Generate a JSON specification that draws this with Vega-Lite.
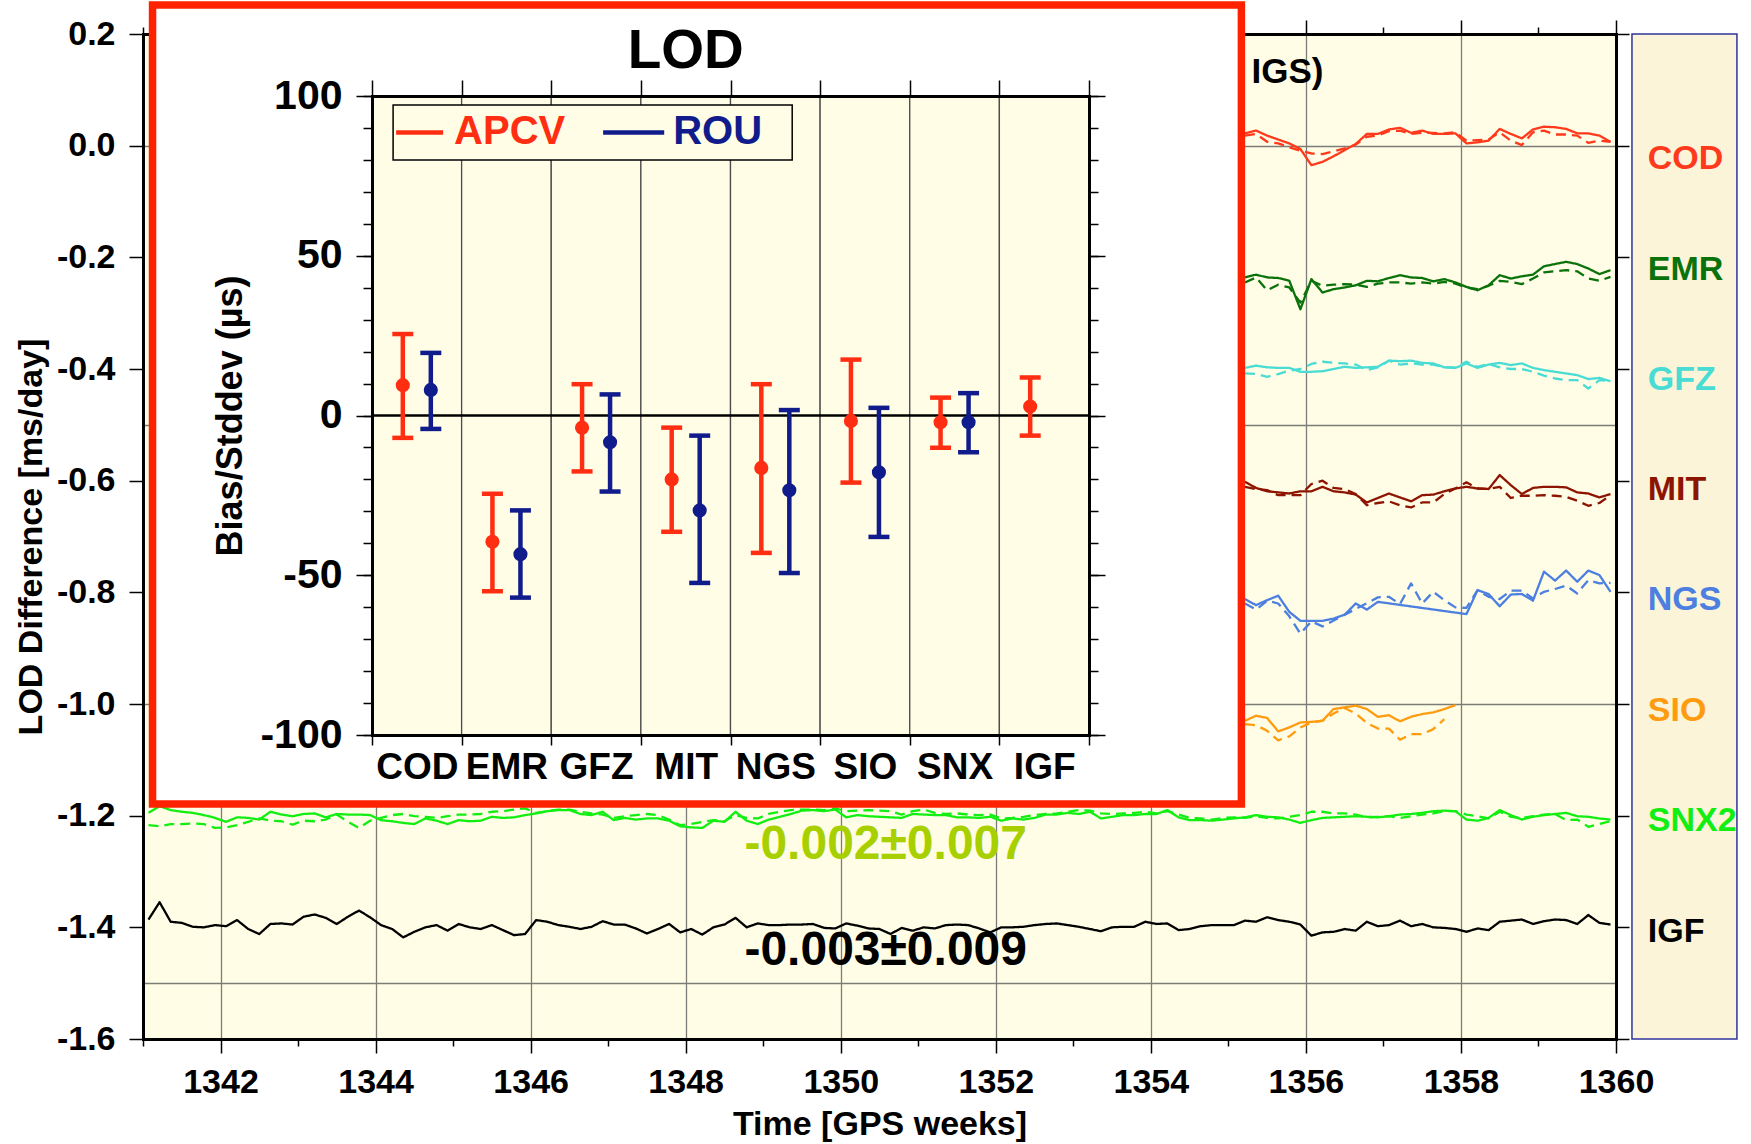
{
"$schema": "https://vega.github.io/schema/vega-lite/v6.json",
"width": 1473, "height": 1005,
"autosize": {"type": "none"},
"padding": {"left": 143, "top": 34, "right": 135, "bottom": 105},
"background": "white",
"config": {
  "font": "Liberation Sans",
  "view": {"fill": "#fffde6", "stroke": null},
  "axis": {"labelFont": "Liberation Sans", "titleFont": "Liberation Sans", "labelFontWeight": "bold", "titleFontWeight": "bold",
    "labelColor": "black", "titleColor": "black", "tickColor": "black", "domainColor": "black",
    "labelFlush": false, "labelOverlap": false, "labelFontSize": 34, "titleFontSize": 34,
    "tickWidth": 1.5, "domainWidth": 3, "domainCap": "square", "grid": false, "gridColor": "#7d7d78", "gridWidth": 1.3}
},
"datasets": {
"labels": [{"ac":"COD","level":-0.024},{"ac":"EMR","level":-0.222},{"ac":"GFZ","level":-0.42},{"ac":"MIT","level":-0.616},{"ac":"NGS","level":-0.814},{"ac":"SIO","level":-1.012},{"ac":"SNX2","level":-1.21},{"ac":"IGF","level":-1.408}],
"bars": [
{"cat":"COD","sol":"APCV","mean":9.5,"lo":-7,"hi":25.5},
{"cat":"COD","sol":"ROU","mean":8,"lo":-4.2,"hi":19.6},
{"cat":"EMR","sol":"APCV","mean":-39.5,"lo":-55,"hi":-24.5},
{"cat":"EMR","sol":"ROU","mean":-43.4,"lo":-57,"hi":-29.7},
{"cat":"GFZ","sol":"APCV","mean":-3.8,"lo":-17.5,"hi":9.8},
{"cat":"GFZ","sol":"ROU","mean":-8.4,"lo":-23.8,"hi":6.6},
{"cat":"MIT","sol":"APCV","mean":-20,"lo":-36.4,"hi":-3.8},
{"cat":"MIT","sol":"ROU","mean":-29.7,"lo":-52.4,"hi":-6.3},
{"cat":"NGS","sol":"APCV","mean":-16.4,"lo":-43,"hi":9.8},
{"cat":"NGS","sol":"ROU","mean":-23.4,"lo":-49.3,"hi":1.7},
{"cat":"SIO","sol":"APCV","mean":-1.7,"lo":-21,"hi":17.5},
{"cat":"SIO","sol":"ROU","mean":-17.8,"lo":-38,"hi":2.4},
{"cat":"SNX","sol":"APCV","mean":-2.1,"lo":-10.1,"hi":5.6},
{"cat":"SNX","sol":"ROU","mean":-2.1,"lo":-11.5,"hi":7},
{"cat":"IGF","sol":"APCV","mean":2.8,"lo":-6.3,"hi":11.9}
],
"series": [
{"ac":"IGF","sol":"APCV","week":1341.071,"lod":-1.386},{"ac":"IGF","sol":"APCV","week":1341.214,"lod":-1.355},{"ac":"IGF","sol":"APCV","week":1341.357,"lod":-1.390},{"ac":"IGF","sol":"APCV","week":1341.5,"lod":-1.392},{"ac":"IGF","sol":"APCV","week":1341.643,"lod":-1.399},{"ac":"IGF","sol":"APCV","week":1341.786,"lod":-1.400},{"ac":"IGF","sol":"APCV","week":1341.929,"lod":-1.396},
{"ac":"IGF","sol":"APCV","week":1342.071,"lod":-1.398},{"ac":"IGF","sol":"APCV","week":1342.214,"lod":-1.387},{"ac":"IGF","sol":"APCV","week":1342.357,"lod":-1.403},{"ac":"IGF","sol":"APCV","week":1342.5,"lod":-1.412},{"ac":"IGF","sol":"APCV","week":1342.643,"lod":-1.394},{"ac":"IGF","sol":"APCV","week":1342.786,"lod":-1.393},{"ac":"IGF","sol":"APCV","week":1342.929,"lod":-1.395},
{"ac":"IGF","sol":"APCV","week":1343.071,"lod":-1.381},{"ac":"IGF","sol":"APCV","week":1343.214,"lod":-1.377},{"ac":"IGF","sol":"APCV","week":1343.357,"lod":-1.383},{"ac":"IGF","sol":"APCV","week":1343.5,"lod":-1.394},{"ac":"IGF","sol":"APCV","week":1343.643,"lod":-1.381},{"ac":"IGF","sol":"APCV","week":1343.786,"lod":-1.370},{"ac":"IGF","sol":"APCV","week":1343.929,"lod":-1.382},
{"ac":"IGF","sol":"APCV","week":1344.071,"lod":-1.396},{"ac":"IGF","sol":"APCV","week":1344.214,"lod":-1.403},{"ac":"IGF","sol":"APCV","week":1344.357,"lod":-1.418},{"ac":"IGF","sol":"APCV","week":1344.5,"lod":-1.408},{"ac":"IGF","sol":"APCV","week":1344.643,"lod":-1.400},{"ac":"IGF","sol":"APCV","week":1344.786,"lod":-1.396},{"ac":"IGF","sol":"APCV","week":1344.929,"lod":-1.406},
{"ac":"IGF","sol":"APCV","week":1345.071,"lod":-1.394},{"ac":"IGF","sol":"APCV","week":1345.214,"lod":-1.400},{"ac":"IGF","sol":"APCV","week":1345.357,"lod":-1.403},{"ac":"IGF","sol":"APCV","week":1345.5,"lod":-1.396},{"ac":"IGF","sol":"APCV","week":1345.643,"lod":-1.405},{"ac":"IGF","sol":"APCV","week":1345.786,"lod":-1.414},{"ac":"IGF","sol":"APCV","week":1345.929,"lod":-1.412},
{"ac":"IGF","sol":"APCV","week":1346.071,"lod":-1.387},{"ac":"IGF","sol":"APCV","week":1346.214,"lod":-1.390},{"ac":"IGF","sol":"APCV","week":1346.357,"lod":-1.396},{"ac":"IGF","sol":"APCV","week":1346.5,"lod":-1.399},{"ac":"IGF","sol":"APCV","week":1346.643,"lod":-1.403},{"ac":"IGF","sol":"APCV","week":1346.786,"lod":-1.399},{"ac":"IGF","sol":"APCV","week":1346.929,"lod":-1.389},
{"ac":"IGF","sol":"APCV","week":1347.071,"lod":-1.395},{"ac":"IGF","sol":"APCV","week":1347.214,"lod":-1.395},{"ac":"IGF","sol":"APCV","week":1347.357,"lod":-1.402},{"ac":"IGF","sol":"APCV","week":1347.5,"lod":-1.411},{"ac":"IGF","sol":"APCV","week":1347.643,"lod":-1.403},{"ac":"IGF","sol":"APCV","week":1347.786,"lod":-1.394},{"ac":"IGF","sol":"APCV","week":1347.929,"lod":-1.409},
{"ac":"IGF","sol":"APCV","week":1348.071,"lod":-1.403},{"ac":"IGF","sol":"APCV","week":1348.214,"lod":-1.413},{"ac":"IGF","sol":"APCV","week":1348.357,"lod":-1.400},{"ac":"IGF","sol":"APCV","week":1348.5,"lod":-1.395},{"ac":"IGF","sol":"APCV","week":1348.643,"lod":-1.383},{"ac":"IGF","sol":"APCV","week":1348.786,"lod":-1.400},{"ac":"IGF","sol":"APCV","week":1348.929,"lod":-1.393},
{"ac":"IGF","sol":"APCV","week":1349.071,"lod":-1.396},{"ac":"IGF","sol":"APCV","week":1349.214,"lod":-1.396},{"ac":"IGF","sol":"APCV","week":1349.357,"lod":-1.395},{"ac":"IGF","sol":"APCV","week":1349.5,"lod":-1.395},{"ac":"IGF","sol":"APCV","week":1349.643,"lod":-1.394},{"ac":"IGF","sol":"APCV","week":1349.786,"lod":-1.401},{"ac":"IGF","sol":"APCV","week":1349.929,"lod":-1.402},
{"ac":"IGF","sol":"APCV","week":1350.071,"lod":-1.393},{"ac":"IGF","sol":"APCV","week":1350.214,"lod":-1.397},{"ac":"IGF","sol":"APCV","week":1350.357,"lod":-1.402},{"ac":"IGF","sol":"APCV","week":1350.5,"lod":-1.403},{"ac":"IGF","sol":"APCV","week":1350.643,"lod":-1.412},{"ac":"IGF","sol":"APCV","week":1350.786,"lod":-1.401},{"ac":"IGF","sol":"APCV","week":1350.929,"lod":-1.406},
{"ac":"IGF","sol":"APCV","week":1351.071,"lod":-1.400},{"ac":"IGF","sol":"APCV","week":1351.214,"lod":-1.402},{"ac":"IGF","sol":"APCV","week":1351.357,"lod":-1.396},{"ac":"IGF","sol":"APCV","week":1351.5,"lod":-1.395},{"ac":"IGF","sol":"APCV","week":1351.643,"lod":-1.396},{"ac":"IGF","sol":"APCV","week":1351.786,"lod":-1.402},{"ac":"IGF","sol":"APCV","week":1351.929,"lod":-1.409},
{"ac":"IGF","sol":"APCV","week":1352.071,"lod":-1.400},{"ac":"IGF","sol":"APCV","week":1352.214,"lod":-1.400},{"ac":"IGF","sol":"APCV","week":1352.357,"lod":-1.399},{"ac":"IGF","sol":"APCV","week":1352.5,"lod":-1.396},{"ac":"IGF","sol":"APCV","week":1352.643,"lod":-1.394},{"ac":"IGF","sol":"APCV","week":1352.786,"lod":-1.393},{"ac":"IGF","sol":"APCV","week":1352.929,"lod":-1.396},
{"ac":"IGF","sol":"APCV","week":1353.071,"lod":-1.399},{"ac":"IGF","sol":"APCV","week":1353.214,"lod":-1.403},{"ac":"IGF","sol":"APCV","week":1353.357,"lod":-1.407},{"ac":"IGF","sol":"APCV","week":1353.5,"lod":-1.400},{"ac":"IGF","sol":"APCV","week":1353.643,"lod":-1.399},{"ac":"IGF","sol":"APCV","week":1353.786,"lod":-1.399},{"ac":"IGF","sol":"APCV","week":1353.929,"lod":-1.390},
{"ac":"IGF","sol":"APCV","week":1354.071,"lod":-1.394},{"ac":"IGF","sol":"APCV","week":1354.214,"lod":-1.393},{"ac":"IGF","sol":"APCV","week":1354.357,"lod":-1.405},{"ac":"IGF","sol":"APCV","week":1354.5,"lod":-1.403},{"ac":"IGF","sol":"APCV","week":1354.643,"lod":-1.398},{"ac":"IGF","sol":"APCV","week":1354.786,"lod":-1.396},{"ac":"IGF","sol":"APCV","week":1354.929,"lod":-1.396},
{"ac":"IGF","sol":"APCV","week":1355.071,"lod":-1.396},{"ac":"IGF","sol":"APCV","week":1355.214,"lod":-1.388},{"ac":"IGF","sol":"APCV","week":1355.357,"lod":-1.390},{"ac":"IGF","sol":"APCV","week":1355.5,"lod":-1.382},{"ac":"IGF","sol":"APCV","week":1355.643,"lod":-1.387},{"ac":"IGF","sol":"APCV","week":1355.786,"lod":-1.390},{"ac":"IGF","sol":"APCV","week":1355.929,"lod":-1.395},
{"ac":"IGF","sol":"APCV","week":1356.071,"lod":-1.415},{"ac":"IGF","sol":"APCV","week":1356.214,"lod":-1.409},{"ac":"IGF","sol":"APCV","week":1356.357,"lod":-1.408},{"ac":"IGF","sol":"APCV","week":1356.5,"lod":-1.403},{"ac":"IGF","sol":"APCV","week":1356.643,"lod":-1.406},{"ac":"IGF","sol":"APCV","week":1356.786,"lod":-1.390},{"ac":"IGF","sol":"APCV","week":1356.929,"lod":-1.398},
{"ac":"IGF","sol":"APCV","week":1357.071,"lod":-1.396},{"ac":"IGF","sol":"APCV","week":1357.214,"lod":-1.388},{"ac":"IGF","sol":"APCV","week":1357.357,"lod":-1.398},{"ac":"IGF","sol":"APCV","week":1357.5,"lod":-1.394},{"ac":"IGF","sol":"APCV","week":1357.643,"lod":-1.400},{"ac":"IGF","sol":"APCV","week":1357.786,"lod":-1.401},{"ac":"IGF","sol":"APCV","week":1357.929,"lod":-1.403},
{"ac":"IGF","sol":"APCV","week":1358.071,"lod":-1.408},{"ac":"IGF","sol":"APCV","week":1358.214,"lod":-1.402},{"ac":"IGF","sol":"APCV","week":1358.357,"lod":-1.405},{"ac":"IGF","sol":"APCV","week":1358.5,"lod":-1.390},{"ac":"IGF","sol":"APCV","week":1358.643,"lod":-1.388},{"ac":"IGF","sol":"APCV","week":1358.786,"lod":-1.386},{"ac":"IGF","sol":"APCV","week":1358.929,"lod":-1.394},
{"ac":"IGF","sol":"APCV","week":1359.071,"lod":-1.389},{"ac":"IGF","sol":"APCV","week":1359.214,"lod":-1.386},{"ac":"IGF","sol":"APCV","week":1359.357,"lod":-1.387},{"ac":"IGF","sol":"APCV","week":1359.5,"lod":-1.394},{"ac":"IGF","sol":"APCV","week":1359.643,"lod":-1.378},{"ac":"IGF","sol":"APCV","week":1359.786,"lod":-1.392},{"ac":"IGF","sol":"APCV","week":1359.929,"lod":-1.395},

{"ac":"SNX2","sol":"APCV","week":1341.071,"lod":-1.195},{"ac":"SNX2","sol":"APCV","week":1341.214,"lod":-1.183},{"ac":"SNX2","sol":"APCV","week":1341.357,"lod":-1.190},{"ac":"SNX2","sol":"APCV","week":1341.5,"lod":-1.193},{"ac":"SNX2","sol":"APCV","week":1341.643,"lod":-1.195},{"ac":"SNX2","sol":"APCV","week":1341.786,"lod":-1.199},{"ac":"SNX2","sol":"APCV","week":1341.929,"lod":-1.204},
{"ac":"SNX2","sol":"APCV","week":1342.071,"lod":-1.211},{"ac":"SNX2","sol":"APCV","week":1342.214,"lod":-1.203},{"ac":"SNX2","sol":"APCV","week":1342.357,"lod":-1.204},{"ac":"SNX2","sol":"APCV","week":1342.5,"lod":-1.207},{"ac":"SNX2","sol":"APCV","week":1342.643,"lod":-1.193},{"ac":"SNX2","sol":"APCV","week":1342.786,"lod":-1.198},{"ac":"SNX2","sol":"APCV","week":1342.929,"lod":-1.201},
{"ac":"SNX2","sol":"APCV","week":1343.071,"lod":-1.197},{"ac":"SNX2","sol":"APCV","week":1343.214,"lod":-1.196},{"ac":"SNX2","sol":"APCV","week":1343.357,"lod":-1.203},{"ac":"SNX2","sol":"APCV","week":1343.5,"lod":-1.197},{"ac":"SNX2","sol":"APCV","week":1343.643,"lod":-1.198},{"ac":"SNX2","sol":"APCV","week":1343.786,"lod":-1.198},{"ac":"SNX2","sol":"APCV","week":1343.929,"lod":-1.199},
{"ac":"SNX2","sol":"APCV","week":1344.071,"lod":-1.208},{"ac":"SNX2","sol":"APCV","week":1344.214,"lod":-1.210},{"ac":"SNX2","sol":"APCV","week":1344.357,"lod":-1.213},{"ac":"SNX2","sol":"APCV","week":1344.5,"lod":-1.215},{"ac":"SNX2","sol":"APCV","week":1344.643,"lod":-1.205},{"ac":"SNX2","sol":"APCV","week":1344.786,"lod":-1.209},{"ac":"SNX2","sol":"APCV","week":1344.929,"lod":-1.215},
{"ac":"SNX2","sol":"APCV","week":1345.071,"lod":-1.208},{"ac":"SNX2","sol":"APCV","week":1345.214,"lod":-1.210},{"ac":"SNX2","sol":"APCV","week":1345.357,"lod":-1.209},{"ac":"SNX2","sol":"APCV","week":1345.5,"lod":-1.202},{"ac":"SNX2","sol":"APCV","week":1345.643,"lod":-1.204},{"ac":"SNX2","sol":"APCV","week":1345.786,"lod":-1.203},{"ac":"SNX2","sol":"APCV","week":1345.929,"lod":-1.199},
{"ac":"SNX2","sol":"APCV","week":1346.071,"lod":-1.196},{"ac":"SNX2","sol":"APCV","week":1346.214,"lod":-1.192},{"ac":"SNX2","sol":"APCV","week":1346.357,"lod":-1.190},{"ac":"SNX2","sol":"APCV","week":1346.5,"lod":-1.190},{"ac":"SNX2","sol":"APCV","week":1346.643,"lod":-1.197},{"ac":"SNX2","sol":"APCV","week":1346.786,"lod":-1.199},{"ac":"SNX2","sol":"APCV","week":1346.929,"lod":-1.193},
{"ac":"SNX2","sol":"APCV","week":1347.071,"lod":-1.208},{"ac":"SNX2","sol":"APCV","week":1347.214,"lod":-1.204},{"ac":"SNX2","sol":"APCV","week":1347.357,"lod":-1.207},{"ac":"SNX2","sol":"APCV","week":1347.5,"lod":-1.205},{"ac":"SNX2","sol":"APCV","week":1347.643,"lod":-1.205},{"ac":"SNX2","sol":"APCV","week":1347.786,"lod":-1.209},{"ac":"SNX2","sol":"APCV","week":1347.929,"lod":-1.219},
{"ac":"SNX2","sol":"APCV","week":1348.071,"lod":-1.221},{"ac":"SNX2","sol":"APCV","week":1348.214,"lod":-1.222},{"ac":"SNX2","sol":"APCV","week":1348.357,"lod":-1.209},{"ac":"SNX2","sol":"APCV","week":1348.5,"lod":-1.211},{"ac":"SNX2","sol":"APCV","week":1348.643,"lod":-1.193},{"ac":"SNX2","sol":"APCV","week":1348.786,"lod":-1.209},{"ac":"SNX2","sol":"APCV","week":1348.929,"lod":-1.215},
{"ac":"SNX2","sol":"APCV","week":1349.071,"lod":-1.207},{"ac":"SNX2","sol":"APCV","week":1349.214,"lod":-1.202},{"ac":"SNX2","sol":"APCV","week":1349.357,"lod":-1.197},{"ac":"SNX2","sol":"APCV","week":1349.5,"lod":-1.191},{"ac":"SNX2","sol":"APCV","week":1349.643,"lod":-1.190},{"ac":"SNX2","sol":"APCV","week":1349.786,"lod":-1.192},{"ac":"SNX2","sol":"APCV","week":1349.929,"lod":-1.189},
{"ac":"SNX2","sol":"APCV","week":1350.071,"lod":-1.203},{"ac":"SNX2","sol":"APCV","week":1350.214,"lod":-1.199},{"ac":"SNX2","sol":"APCV","week":1350.357,"lod":-1.201},{"ac":"SNX2","sol":"APCV","week":1350.5,"lod":-1.202},{"ac":"SNX2","sol":"APCV","week":1350.643,"lod":-1.203},{"ac":"SNX2","sol":"APCV","week":1350.786,"lod":-1.204},{"ac":"SNX2","sol":"APCV","week":1350.929,"lod":-1.197},
{"ac":"SNX2","sol":"APCV","week":1351.071,"lod":-1.198},{"ac":"SNX2","sol":"APCV","week":1351.214,"lod":-1.199},{"ac":"SNX2","sol":"APCV","week":1351.357,"lod":-1.199},{"ac":"SNX2","sol":"APCV","week":1351.5,"lod":-1.203},{"ac":"SNX2","sol":"APCV","week":1351.643,"lod":-1.203},{"ac":"SNX2","sol":"APCV","week":1351.786,"lod":-1.204},{"ac":"SNX2","sol":"APCV","week":1351.929,"lod":-1.202},
{"ac":"SNX2","sol":"APCV","week":1352.071,"lod":-1.209},{"ac":"SNX2","sol":"APCV","week":1352.214,"lod":-1.205},{"ac":"SNX2","sol":"APCV","week":1352.357,"lod":-1.207},{"ac":"SNX2","sol":"APCV","week":1352.5,"lod":-1.204},{"ac":"SNX2","sol":"APCV","week":1352.643,"lod":-1.198},{"ac":"SNX2","sol":"APCV","week":1352.786,"lod":-1.198},{"ac":"SNX2","sol":"APCV","week":1352.929,"lod":-1.195},
{"ac":"SNX2","sol":"APCV","week":1353.071,"lod":-1.197},{"ac":"SNX2","sol":"APCV","week":1353.214,"lod":-1.193},{"ac":"SNX2","sol":"APCV","week":1353.357,"lod":-1.205},{"ac":"SNX2","sol":"APCV","week":1353.5,"lod":-1.202},{"ac":"SNX2","sol":"APCV","week":1353.643,"lod":-1.199},{"ac":"SNX2","sol":"APCV","week":1353.786,"lod":-1.199},{"ac":"SNX2","sol":"APCV","week":1353.929,"lod":-1.197},
{"ac":"SNX2","sol":"APCV","week":1354.071,"lod":-1.197},{"ac":"SNX2","sol":"APCV","week":1354.214,"lod":-1.190},{"ac":"SNX2","sol":"APCV","week":1354.357,"lod":-1.203},{"ac":"SNX2","sol":"APCV","week":1354.5,"lod":-1.208},{"ac":"SNX2","sol":"APCV","week":1354.643,"lod":-1.208},{"ac":"SNX2","sol":"APCV","week":1354.786,"lod":-1.209},{"ac":"SNX2","sol":"APCV","week":1354.929,"lod":-1.207},
{"ac":"SNX2","sol":"APCV","week":1355.071,"lod":-1.205},{"ac":"SNX2","sol":"APCV","week":1355.214,"lod":-1.203},{"ac":"SNX2","sol":"APCV","week":1355.357,"lod":-1.199},{"ac":"SNX2","sol":"APCV","week":1355.5,"lod":-1.202},{"ac":"SNX2","sol":"APCV","week":1355.643,"lod":-1.203},{"ac":"SNX2","sol":"APCV","week":1355.786,"lod":-1.207},{"ac":"SNX2","sol":"APCV","week":1355.929,"lod":-1.213},
{"ac":"SNX2","sol":"APCV","week":1356.071,"lod":-1.208},{"ac":"SNX2","sol":"APCV","week":1356.214,"lod":-1.204},{"ac":"SNX2","sol":"APCV","week":1356.357,"lod":-1.203},{"ac":"SNX2","sol":"APCV","week":1356.5,"lod":-1.202},{"ac":"SNX2","sol":"APCV","week":1356.643,"lod":-1.201},{"ac":"SNX2","sol":"APCV","week":1356.786,"lod":-1.202},{"ac":"SNX2","sol":"APCV","week":1356.929,"lod":-1.203},
{"ac":"SNX2","sol":"APCV","week":1357.071,"lod":-1.201},{"ac":"SNX2","sol":"APCV","week":1357.214,"lod":-1.198},{"ac":"SNX2","sol":"APCV","week":1357.357,"lod":-1.197},{"ac":"SNX2","sol":"APCV","week":1357.5,"lod":-1.195},{"ac":"SNX2","sol":"APCV","week":1357.643,"lod":-1.192},{"ac":"SNX2","sol":"APCV","week":1357.786,"lod":-1.191},{"ac":"SNX2","sol":"APCV","week":1357.929,"lod":-1.192},
{"ac":"SNX2","sol":"APCV","week":1358.071,"lod":-1.207},{"ac":"SNX2","sol":"APCV","week":1358.214,"lod":-1.209},{"ac":"SNX2","sol":"APCV","week":1358.357,"lod":-1.204},{"ac":"SNX2","sol":"APCV","week":1358.5,"lod":-1.190},{"ac":"SNX2","sol":"APCV","week":1358.643,"lod":-1.199},{"ac":"SNX2","sol":"APCV","week":1358.786,"lod":-1.207},{"ac":"SNX2","sol":"APCV","week":1358.929,"lod":-1.202},
{"ac":"SNX2","sol":"APCV","week":1359.071,"lod":-1.199},{"ac":"SNX2","sol":"APCV","week":1359.214,"lod":-1.197},{"ac":"SNX2","sol":"APCV","week":1359.357,"lod":-1.195},{"ac":"SNX2","sol":"APCV","week":1359.5,"lod":-1.201},{"ac":"SNX2","sol":"APCV","week":1359.643,"lod":-1.202},{"ac":"SNX2","sol":"APCV","week":1359.786,"lod":-1.205},{"ac":"SNX2","sol":"APCV","week":1359.929,"lod":-1.207},

{"ac":"SNX2","sol":"ROU","week":1341.071,"lod":-1.217},{"ac":"SNX2","sol":"ROU","week":1341.214,"lod":-1.219},{"ac":"SNX2","sol":"ROU","week":1341.357,"lod":-1.215},{"ac":"SNX2","sol":"ROU","week":1341.5,"lod":-1.215},{"ac":"SNX2","sol":"ROU","week":1341.643,"lod":-1.214},{"ac":"SNX2","sol":"ROU","week":1341.786,"lod":-1.215},{"ac":"SNX2","sol":"ROU","week":1341.929,"lod":-1.222},
{"ac":"SNX2","sol":"ROU","week":1342.071,"lod":-1.221},{"ac":"SNX2","sol":"ROU","week":1342.214,"lod":-1.217},{"ac":"SNX2","sol":"ROU","week":1342.357,"lod":-1.211},{"ac":"SNX2","sol":"ROU","week":1342.5,"lod":-1.205},{"ac":"SNX2","sol":"ROU","week":1342.643,"lod":-1.209},{"ac":"SNX2","sol":"ROU","week":1342.786,"lod":-1.210},{"ac":"SNX2","sol":"ROU","week":1342.929,"lod":-1.216},
{"ac":"SNX2","sol":"ROU","week":1343.071,"lod":-1.209},{"ac":"SNX2","sol":"ROU","week":1343.214,"lod":-1.210},{"ac":"SNX2","sol":"ROU","week":1343.357,"lod":-1.207},{"ac":"SNX2","sol":"ROU","week":1343.5,"lod":-1.198},{"ac":"SNX2","sol":"ROU","week":1343.643,"lod":-1.211},{"ac":"SNX2","sol":"ROU","week":1343.786,"lod":-1.222},{"ac":"SNX2","sol":"ROU","week":1343.929,"lod":-1.209},
{"ac":"SNX2","sol":"ROU","week":1344.071,"lod":-1.204},{"ac":"SNX2","sol":"ROU","week":1344.214,"lod":-1.199},{"ac":"SNX2","sol":"ROU","week":1344.357,"lod":-1.197},{"ac":"SNX2","sol":"ROU","week":1344.5,"lod":-1.201},{"ac":"SNX2","sol":"ROU","week":1344.643,"lod":-1.202},{"ac":"SNX2","sol":"ROU","week":1344.786,"lod":-1.204},{"ac":"SNX2","sol":"ROU","week":1344.929,"lod":-1.201},
{"ac":"SNX2","sol":"ROU","week":1345.071,"lod":-1.198},{"ac":"SNX2","sol":"ROU","week":1345.214,"lod":-1.198},{"ac":"SNX2","sol":"ROU","week":1345.357,"lod":-1.197},{"ac":"SNX2","sol":"ROU","week":1345.5,"lod":-1.193},{"ac":"SNX2","sol":"ROU","week":1345.643,"lod":-1.192},{"ac":"SNX2","sol":"ROU","week":1345.786,"lod":-1.189},{"ac":"SNX2","sol":"ROU","week":1345.929,"lod":-1.187},
{"ac":"SNX2","sol":"ROU","week":1346.071,"lod":-1.195},{"ac":"SNX2","sol":"ROU","week":1346.214,"lod":-1.192},{"ac":"SNX2","sol":"ROU","week":1346.357,"lod":-1.189},{"ac":"SNX2","sol":"ROU","week":1346.5,"lod":-1.189},{"ac":"SNX2","sol":"ROU","week":1346.643,"lod":-1.193},{"ac":"SNX2","sol":"ROU","week":1346.786,"lod":-1.196},{"ac":"SNX2","sol":"ROU","week":1346.929,"lod":-1.198},
{"ac":"SNX2","sol":"ROU","week":1347.071,"lod":-1.204},{"ac":"SNX2","sol":"ROU","week":1347.214,"lod":-1.201},{"ac":"SNX2","sol":"ROU","week":1347.357,"lod":-1.199},{"ac":"SNX2","sol":"ROU","week":1347.5,"lod":-1.197},{"ac":"SNX2","sol":"ROU","week":1347.643,"lod":-1.199},{"ac":"SNX2","sol":"ROU","week":1347.786,"lod":-1.207},{"ac":"SNX2","sol":"ROU","week":1347.929,"lod":-1.217},
{"ac":"SNX2","sol":"ROU","week":1348.071,"lod":-1.215},{"ac":"SNX2","sol":"ROU","week":1348.214,"lod":-1.211},{"ac":"SNX2","sol":"ROU","week":1348.357,"lod":-1.208},{"ac":"SNX2","sol":"ROU","week":1348.5,"lod":-1.210},{"ac":"SNX2","sol":"ROU","week":1348.643,"lod":-1.199},{"ac":"SNX2","sol":"ROU","week":1348.786,"lod":-1.204},{"ac":"SNX2","sol":"ROU","week":1348.929,"lod":-1.205},
{"ac":"SNX2","sol":"ROU","week":1349.071,"lod":-1.197},{"ac":"SNX2","sol":"ROU","week":1349.214,"lod":-1.193},{"ac":"SNX2","sol":"ROU","week":1349.357,"lod":-1.190},{"ac":"SNX2","sol":"ROU","week":1349.5,"lod":-1.189},{"ac":"SNX2","sol":"ROU","week":1349.643,"lod":-1.189},{"ac":"SNX2","sol":"ROU","week":1349.786,"lod":-1.190},{"ac":"SNX2","sol":"ROU","week":1349.929,"lod":-1.187},
{"ac":"SNX2","sol":"ROU","week":1350.071,"lod":-1.192},{"ac":"SNX2","sol":"ROU","week":1350.214,"lod":-1.191},{"ac":"SNX2","sol":"ROU","week":1350.357,"lod":-1.190},{"ac":"SNX2","sol":"ROU","week":1350.5,"lod":-1.191},{"ac":"SNX2","sol":"ROU","week":1350.643,"lod":-1.192},{"ac":"SNX2","sol":"ROU","week":1350.786,"lod":-1.198},{"ac":"SNX2","sol":"ROU","week":1350.929,"lod":-1.192},
{"ac":"SNX2","sol":"ROU","week":1351.071,"lod":-1.189},{"ac":"SNX2","sol":"ROU","week":1351.214,"lod":-1.195},{"ac":"SNX2","sol":"ROU","week":1351.357,"lod":-1.197},{"ac":"SNX2","sol":"ROU","week":1351.5,"lod":-1.196},{"ac":"SNX2","sol":"ROU","week":1351.643,"lod":-1.198},{"ac":"SNX2","sol":"ROU","week":1351.786,"lod":-1.199},{"ac":"SNX2","sol":"ROU","week":1351.929,"lod":-1.198},
{"ac":"SNX2","sol":"ROU","week":1352.071,"lod":-1.205},{"ac":"SNX2","sol":"ROU","week":1352.214,"lod":-1.204},{"ac":"SNX2","sol":"ROU","week":1352.357,"lod":-1.202},{"ac":"SNX2","sol":"ROU","week":1352.5,"lod":-1.199},{"ac":"SNX2","sol":"ROU","week":1352.643,"lod":-1.197},{"ac":"SNX2","sol":"ROU","week":1352.786,"lod":-1.196},{"ac":"SNX2","sol":"ROU","week":1352.929,"lod":-1.193},
{"ac":"SNX2","sol":"ROU","week":1353.071,"lod":-1.190},{"ac":"SNX2","sol":"ROU","week":1353.214,"lod":-1.191},{"ac":"SNX2","sol":"ROU","week":1353.357,"lod":-1.196},{"ac":"SNX2","sol":"ROU","week":1353.5,"lod":-1.197},{"ac":"SNX2","sol":"ROU","week":1353.643,"lod":-1.196},{"ac":"SNX2","sol":"ROU","week":1353.786,"lod":-1.195},{"ac":"SNX2","sol":"ROU","week":1353.929,"lod":-1.193},
{"ac":"SNX2","sol":"ROU","week":1354.071,"lod":-1.196},{"ac":"SNX2","sol":"ROU","week":1354.214,"lod":-1.192},{"ac":"SNX2","sol":"ROU","week":1354.357,"lod":-1.198},{"ac":"SNX2","sol":"ROU","week":1354.5,"lod":-1.204},{"ac":"SNX2","sol":"ROU","week":1354.643,"lod":-1.205},{"ac":"SNX2","sol":"ROU","week":1354.786,"lod":-1.207},{"ac":"SNX2","sol":"ROU","week":1354.929,"lod":-1.204},
{"ac":"SNX2","sol":"ROU","week":1355.071,"lod":-1.203},{"ac":"SNX2","sol":"ROU","week":1355.214,"lod":-1.204},{"ac":"SNX2","sol":"ROU","week":1355.357,"lod":-1.201},{"ac":"SNX2","sol":"ROU","week":1355.5,"lod":-1.204},{"ac":"SNX2","sol":"ROU","week":1355.643,"lod":-1.205},{"ac":"SNX2","sol":"ROU","week":1355.786,"lod":-1.202},{"ac":"SNX2","sol":"ROU","week":1355.929,"lod":-1.199},
{"ac":"SNX2","sol":"ROU","week":1356.071,"lod":-1.193},{"ac":"SNX2","sol":"ROU","week":1356.214,"lod":-1.193},{"ac":"SNX2","sol":"ROU","week":1356.357,"lod":-1.196},{"ac":"SNX2","sol":"ROU","week":1356.5,"lod":-1.196},{"ac":"SNX2","sol":"ROU","week":1356.643,"lod":-1.198},{"ac":"SNX2","sol":"ROU","week":1356.786,"lod":-1.203},{"ac":"SNX2","sol":"ROU","week":1356.929,"lod":-1.202},
{"ac":"SNX2","sol":"ROU","week":1357.071,"lod":-1.201},{"ac":"SNX2","sol":"ROU","week":1357.214,"lod":-1.204},{"ac":"SNX2","sol":"ROU","week":1357.357,"lod":-1.201},{"ac":"SNX2","sol":"ROU","week":1357.5,"lod":-1.198},{"ac":"SNX2","sol":"ROU","week":1357.643,"lod":-1.196},{"ac":"SNX2","sol":"ROU","week":1357.786,"lod":-1.192},{"ac":"SNX2","sol":"ROU","week":1357.929,"lod":-1.192},
{"ac":"SNX2","sol":"ROU","week":1358.071,"lod":-1.198},{"ac":"SNX2","sol":"ROU","week":1358.214,"lod":-1.201},{"ac":"SNX2","sol":"ROU","week":1358.357,"lod":-1.205},{"ac":"SNX2","sol":"ROU","week":1358.5,"lod":-1.193},{"ac":"SNX2","sol":"ROU","week":1358.643,"lod":-1.202},{"ac":"SNX2","sol":"ROU","week":1358.786,"lod":-1.204},{"ac":"SNX2","sol":"ROU","week":1358.929,"lod":-1.201},
{"ac":"SNX2","sol":"ROU","week":1359.071,"lod":-1.198},{"ac":"SNX2","sol":"ROU","week":1359.214,"lod":-1.197},{"ac":"SNX2","sol":"ROU","week":1359.357,"lod":-1.208},{"ac":"SNX2","sol":"ROU","week":1359.5,"lod":-1.207},{"ac":"SNX2","sol":"ROU","week":1359.643,"lod":-1.220},{"ac":"SNX2","sol":"ROU","week":1359.786,"lod":-1.215},{"ac":"SNX2","sol":"ROU","week":1359.929,"lod":-1.210},

{"ac":"COD","sol":"APCV","week":1355.214,"lod":0.022},{"ac":"COD","sol":"APCV","week":1355.357,"lod":0.027},{"ac":"COD","sol":"APCV","week":1355.5,"lod":0.018},{"ac":"COD","sol":"APCV","week":1355.643,"lod":0.011},{"ac":"COD","sol":"APCV","week":1355.786,"lod":0.004},{"ac":"COD","sol":"APCV","week":1355.929,"lod":-0.006},
{"ac":"COD","sol":"APCV","week":1356.071,"lod":-0.035},{"ac":"COD","sol":"APCV","week":1356.214,"lod":-0.029},{"ac":"COD","sol":"APCV","week":1356.357,"lod":-0.019},{"ac":"COD","sol":"APCV","week":1356.5,"lod":-0.008},{"ac":"COD","sol":"APCV","week":1356.643,"lod":0.003},{"ac":"COD","sol":"APCV","week":1356.786,"lod":0.021},{"ac":"COD","sol":"APCV","week":1356.929,"lod":0.021},
{"ac":"COD","sol":"APCV","week":1357.071,"lod":0.029},{"ac":"COD","sol":"APCV","week":1357.214,"lod":0.032},{"ac":"COD","sol":"APCV","week":1357.357,"lod":0.023},{"ac":"COD","sol":"APCV","week":1357.5,"lod":0.027},{"ac":"COD","sol":"APCV","week":1357.643,"lod":0.021},{"ac":"COD","sol":"APCV","week":1357.786,"lod":0.021},{"ac":"COD","sol":"APCV","week":1357.929,"lod":0.022},
{"ac":"COD","sol":"APCV","week":1358.071,"lod":0.004},{"ac":"COD","sol":"APCV","week":1358.214,"lod":0.006},{"ac":"COD","sol":"APCV","week":1358.357,"lod":0.009},{"ac":"COD","sol":"APCV","week":1358.5,"lod":0.030},{"ac":"COD","sol":"APCV","week":1358.643,"lod":0.021},{"ac":"COD","sol":"APCV","week":1358.786,"lod":0.013},{"ac":"COD","sol":"APCV","week":1358.929,"lod":0.029},
{"ac":"COD","sol":"APCV","week":1359.071,"lod":0.034},{"ac":"COD","sol":"APCV","week":1359.214,"lod":0.033},{"ac":"COD","sol":"APCV","week":1359.357,"lod":0.030},{"ac":"COD","sol":"APCV","week":1359.5,"lod":0.022},{"ac":"COD","sol":"APCV","week":1359.643,"lod":0.022},{"ac":"COD","sol":"APCV","week":1359.786,"lod":0.018},{"ac":"COD","sol":"APCV","week":1359.929,"lod":0.007},

{"ac":"COD","sol":"ROU","week":1355.214,"lod":0.018},{"ac":"COD","sol":"ROU","week":1355.357,"lod":0.021},{"ac":"COD","sol":"ROU","week":1355.5,"lod":0.007},{"ac":"COD","sol":"ROU","week":1355.643,"lod":0.004},{"ac":"COD","sol":"ROU","week":1355.786,"lod":-0.003},{"ac":"COD","sol":"ROU","week":1355.929,"lod":-0.009},
{"ac":"COD","sol":"ROU","week":1356.071,"lod":-0.014},{"ac":"COD","sol":"ROU","week":1356.214,"lod":-0.015},{"ac":"COD","sol":"ROU","week":1356.357,"lod":-0.010},{"ac":"COD","sol":"ROU","week":1356.5,"lod":-0.005},{"ac":"COD","sol":"ROU","week":1356.643,"lod":0.002},{"ac":"COD","sol":"ROU","week":1356.786,"lod":0.016},{"ac":"COD","sol":"ROU","week":1356.929,"lod":0.018},
{"ac":"COD","sol":"ROU","week":1357.071,"lod":0.026},{"ac":"COD","sol":"ROU","week":1357.214,"lod":0.027},{"ac":"COD","sol":"ROU","week":1357.357,"lod":0.021},{"ac":"COD","sol":"ROU","week":1357.5,"lod":0.023},{"ac":"COD","sol":"ROU","week":1357.643,"lod":0.023},{"ac":"COD","sol":"ROU","week":1357.786,"lod":0.022},{"ac":"COD","sol":"ROU","week":1357.929,"lod":0.024},
{"ac":"COD","sol":"ROU","week":1358.071,"lod":0.009},{"ac":"COD","sol":"ROU","week":1358.214,"lod":0.010},{"ac":"COD","sol":"ROU","week":1358.357,"lod":0.011},{"ac":"COD","sol":"ROU","week":1358.5,"lod":0.024},{"ac":"COD","sol":"ROU","week":1358.643,"lod":0.009},{"ac":"COD","sol":"ROU","week":1358.786,"lod":0.001},{"ac":"COD","sol":"ROU","week":1358.929,"lod":0.024},
{"ac":"COD","sol":"ROU","week":1359.071,"lod":0.027},{"ac":"COD","sol":"ROU","week":1359.214,"lod":0.020},{"ac":"COD","sol":"ROU","week":1359.357,"lod":0.020},{"ac":"COD","sol":"ROU","week":1359.5,"lod":0.018},{"ac":"COD","sol":"ROU","week":1359.643,"lod":0.005},{"ac":"COD","sol":"ROU","week":1359.786,"lod":0.009},{"ac":"COD","sol":"ROU","week":1359.929,"lod":0.007},

{"ac":"EMR","sol":"APCV","week":1355.214,"lod":-0.236},{"ac":"EMR","sol":"APCV","week":1355.357,"lod":-0.231},{"ac":"EMR","sol":"APCV","week":1355.5,"lod":-0.236},{"ac":"EMR","sol":"APCV","week":1355.643,"lod":-0.237},{"ac":"EMR","sol":"APCV","week":1355.786,"lod":-0.242},{"ac":"EMR","sol":"APCV","week":1355.929,"lod":-0.293},
{"ac":"EMR","sol":"APCV","week":1356.071,"lod":-0.239},{"ac":"EMR","sol":"APCV","week":1356.214,"lod":-0.263},{"ac":"EMR","sol":"APCV","week":1356.357,"lod":-0.257},{"ac":"EMR","sol":"APCV","week":1356.5,"lod":-0.254},{"ac":"EMR","sol":"APCV","week":1356.643,"lod":-0.250},{"ac":"EMR","sol":"APCV","week":1356.786,"lod":-0.242},{"ac":"EMR","sol":"APCV","week":1356.929,"lod":-0.243},
{"ac":"EMR","sol":"APCV","week":1357.071,"lod":-0.237},{"ac":"EMR","sol":"APCV","week":1357.214,"lod":-0.232},{"ac":"EMR","sol":"APCV","week":1357.357,"lod":-0.236},{"ac":"EMR","sol":"APCV","week":1357.5,"lod":-0.237},{"ac":"EMR","sol":"APCV","week":1357.643,"lod":-0.243},{"ac":"EMR","sol":"APCV","week":1357.786,"lod":-0.239},{"ac":"EMR","sol":"APCV","week":1357.929,"lod":-0.245},
{"ac":"EMR","sol":"APCV","week":1358.071,"lod":-0.253},{"ac":"EMR","sol":"APCV","week":1358.214,"lod":-0.259},{"ac":"EMR","sol":"APCV","week":1358.357,"lod":-0.250},{"ac":"EMR","sol":"APCV","week":1358.5,"lod":-0.232},{"ac":"EMR","sol":"APCV","week":1358.643,"lod":-0.238},{"ac":"EMR","sol":"APCV","week":1358.786,"lod":-0.234},{"ac":"EMR","sol":"APCV","week":1358.929,"lod":-0.231},
{"ac":"EMR","sol":"APCV","week":1359.071,"lod":-0.216},{"ac":"EMR","sol":"APCV","week":1359.214,"lod":-0.212},{"ac":"EMR","sol":"APCV","week":1359.357,"lod":-0.208},{"ac":"EMR","sol":"APCV","week":1359.5,"lod":-0.212},{"ac":"EMR","sol":"APCV","week":1359.643,"lod":-0.220},{"ac":"EMR","sol":"APCV","week":1359.786,"lod":-0.230},{"ac":"EMR","sol":"APCV","week":1359.929,"lod":-0.223},

{"ac":"EMR","sol":"ROU","week":1355.214,"lod":-0.245},{"ac":"EMR","sol":"ROU","week":1355.357,"lod":-0.236},{"ac":"EMR","sol":"ROU","week":1355.5,"lod":-0.259},{"ac":"EMR","sol":"ROU","week":1355.643,"lod":-0.249},{"ac":"EMR","sol":"ROU","week":1355.786,"lod":-0.254},{"ac":"EMR","sol":"ROU","week":1355.929,"lod":-0.281},
{"ac":"EMR","sol":"ROU","week":1356.071,"lod":-0.242},{"ac":"EMR","sol":"ROU","week":1356.214,"lod":-0.251},{"ac":"EMR","sol":"ROU","week":1356.357,"lod":-0.249},{"ac":"EMR","sol":"ROU","week":1356.5,"lod":-0.248},{"ac":"EMR","sol":"ROU","week":1356.643,"lod":-0.249},{"ac":"EMR","sol":"ROU","week":1356.786,"lod":-0.253},{"ac":"EMR","sol":"ROU","week":1356.929,"lod":-0.247},
{"ac":"EMR","sol":"ROU","week":1357.071,"lod":-0.245},{"ac":"EMR","sol":"ROU","week":1357.214,"lod":-0.245},{"ac":"EMR","sol":"ROU","week":1357.357,"lod":-0.247},{"ac":"EMR","sol":"ROU","week":1357.5,"lod":-0.245},{"ac":"EMR","sol":"ROU","week":1357.643,"lod":-0.247},{"ac":"EMR","sol":"ROU","week":1357.786,"lod":-0.244},{"ac":"EMR","sol":"ROU","week":1357.929,"lod":-0.247},
{"ac":"EMR","sol":"ROU","week":1358.071,"lod":-0.254},{"ac":"EMR","sol":"ROU","week":1358.214,"lod":-0.257},{"ac":"EMR","sol":"ROU","week":1358.357,"lod":-0.251},{"ac":"EMR","sol":"ROU","week":1358.5,"lod":-0.242},{"ac":"EMR","sol":"ROU","week":1358.643,"lod":-0.244},{"ac":"EMR","sol":"ROU","week":1358.786,"lod":-0.248},{"ac":"EMR","sol":"ROU","week":1358.929,"lod":-0.238},
{"ac":"EMR","sol":"ROU","week":1359.071,"lod":-0.227},{"ac":"EMR","sol":"ROU","week":1359.214,"lod":-0.225},{"ac":"EMR","sol":"ROU","week":1359.357,"lod":-0.223},{"ac":"EMR","sol":"ROU","week":1359.5,"lod":-0.225},{"ac":"EMR","sol":"ROU","week":1359.643,"lod":-0.238},{"ac":"EMR","sol":"ROU","week":1359.786,"lod":-0.242},{"ac":"EMR","sol":"ROU","week":1359.929,"lod":-0.235},

{"ac":"GFZ","sol":"APCV","week":1355.214,"lod":-0.398},{"ac":"GFZ","sol":"APCV","week":1355.357,"lod":-0.394},{"ac":"GFZ","sol":"APCV","week":1355.5,"lod":-0.397},{"ac":"GFZ","sol":"APCV","week":1355.643,"lod":-0.398},{"ac":"GFZ","sol":"APCV","week":1355.786,"lod":-0.398},{"ac":"GFZ","sol":"APCV","week":1355.929,"lod":-0.405},
{"ac":"GFZ","sol":"APCV","week":1356.071,"lod":-0.405},{"ac":"GFZ","sol":"APCV","week":1356.214,"lod":-0.404},{"ac":"GFZ","sol":"APCV","week":1356.357,"lod":-0.400},{"ac":"GFZ","sol":"APCV","week":1356.5,"lod":-0.396},{"ac":"GFZ","sol":"APCV","week":1356.643,"lod":-0.398},{"ac":"GFZ","sol":"APCV","week":1356.786,"lod":-0.397},{"ac":"GFZ","sol":"APCV","week":1356.929,"lod":-0.396},
{"ac":"GFZ","sol":"APCV","week":1357.071,"lod":-0.385},{"ac":"GFZ","sol":"APCV","week":1357.214,"lod":-0.386},{"ac":"GFZ","sol":"APCV","week":1357.357,"lod":-0.385},{"ac":"GFZ","sol":"APCV","week":1357.5,"lod":-0.389},{"ac":"GFZ","sol":"APCV","week":1357.643,"lod":-0.390},{"ac":"GFZ","sol":"APCV","week":1357.786,"lod":-0.397},{"ac":"GFZ","sol":"APCV","week":1357.929,"lod":-0.398},
{"ac":"GFZ","sol":"APCV","week":1358.071,"lod":-0.390},{"ac":"GFZ","sol":"APCV","week":1358.214,"lod":-0.398},{"ac":"GFZ","sol":"APCV","week":1358.357,"lod":-0.392},{"ac":"GFZ","sol":"APCV","week":1358.5,"lod":-0.389},{"ac":"GFZ","sol":"APCV","week":1358.643,"lod":-0.393},{"ac":"GFZ","sol":"APCV","week":1358.786,"lod":-0.390},{"ac":"GFZ","sol":"APCV","week":1358.929,"lod":-0.398},
{"ac":"GFZ","sol":"APCV","week":1359.071,"lod":-0.402},{"ac":"GFZ","sol":"APCV","week":1359.214,"lod":-0.405},{"ac":"GFZ","sol":"APCV","week":1359.357,"lod":-0.408},{"ac":"GFZ","sol":"APCV","week":1359.5,"lod":-0.411},{"ac":"GFZ","sol":"APCV","week":1359.643,"lod":-0.418},{"ac":"GFZ","sol":"APCV","week":1359.786,"lod":-0.416},{"ac":"GFZ","sol":"APCV","week":1359.929,"lod":-0.422},

{"ac":"GFZ","sol":"ROU","week":1355.214,"lod":-0.408},{"ac":"GFZ","sol":"ROU","week":1355.357,"lod":-0.409},{"ac":"GFZ","sol":"ROU","week":1355.5,"lod":-0.414},{"ac":"GFZ","sol":"ROU","week":1355.643,"lod":-0.409},{"ac":"GFZ","sol":"ROU","week":1355.786,"lod":-0.403},{"ac":"GFZ","sol":"ROU","week":1355.929,"lod":-0.400},
{"ac":"GFZ","sol":"ROU","week":1356.071,"lod":-0.391},{"ac":"GFZ","sol":"ROU","week":1356.214,"lod":-0.387},{"ac":"GFZ","sol":"ROU","week":1356.357,"lod":-0.389},{"ac":"GFZ","sol":"ROU","week":1356.5,"lod":-0.390},{"ac":"GFZ","sol":"ROU","week":1356.643,"lod":-0.392},{"ac":"GFZ","sol":"ROU","week":1356.786,"lod":-0.402},{"ac":"GFZ","sol":"ROU","week":1356.929,"lod":-0.397},
{"ac":"GFZ","sol":"ROU","week":1357.071,"lod":-0.385},{"ac":"GFZ","sol":"ROU","week":1357.214,"lod":-0.392},{"ac":"GFZ","sol":"ROU","week":1357.357,"lod":-0.390},{"ac":"GFZ","sol":"ROU","week":1357.5,"lod":-0.392},{"ac":"GFZ","sol":"ROU","week":1357.643,"lod":-0.392},{"ac":"GFZ","sol":"ROU","week":1357.786,"lod":-0.397},{"ac":"GFZ","sol":"ROU","week":1357.929,"lod":-0.397},
{"ac":"GFZ","sol":"ROU","week":1358.071,"lod":-0.387},{"ac":"GFZ","sol":"ROU","week":1358.214,"lod":-0.396},{"ac":"GFZ","sol":"ROU","week":1358.357,"lod":-0.391},{"ac":"GFZ","sol":"ROU","week":1358.5,"lod":-0.397},{"ac":"GFZ","sol":"ROU","week":1358.643,"lod":-0.400},{"ac":"GFZ","sol":"ROU","week":1358.786,"lod":-0.400},{"ac":"GFZ","sol":"ROU","week":1358.929,"lod":-0.405},
{"ac":"GFZ","sol":"ROU","week":1359.071,"lod":-0.412},{"ac":"GFZ","sol":"ROU","week":1359.214,"lod":-0.417},{"ac":"GFZ","sol":"ROU","week":1359.357,"lod":-0.420},{"ac":"GFZ","sol":"ROU","week":1359.5,"lod":-0.420},{"ac":"GFZ","sol":"ROU","week":1359.643,"lod":-0.435},{"ac":"GFZ","sol":"ROU","week":1359.786,"lod":-0.420},{"ac":"GFZ","sol":"ROU","week":1359.929,"lod":-0.422},

{"ac":"MIT","sol":"APCV","week":1355.214,"lod":-0.602},{"ac":"MIT","sol":"APCV","week":1355.357,"lod":-0.613},{"ac":"MIT","sol":"APCV","week":1355.5,"lod":-0.619},{"ac":"MIT","sol":"APCV","week":1355.643,"lod":-0.621},{"ac":"MIT","sol":"APCV","week":1355.786,"lod":-0.623},{"ac":"MIT","sol":"APCV","week":1355.929,"lod":-0.619},
{"ac":"MIT","sol":"APCV","week":1356.071,"lod":-0.619},{"ac":"MIT","sol":"APCV","week":1356.214,"lod":-0.611},{"ac":"MIT","sol":"APCV","week":1356.357,"lod":-0.619},{"ac":"MIT","sol":"APCV","week":1356.5,"lod":-0.621},{"ac":"MIT","sol":"APCV","week":1356.643,"lod":-0.625},{"ac":"MIT","sol":"APCV","week":1356.786,"lod":-0.639},{"ac":"MIT","sol":"APCV","week":1356.929,"lod":-0.631},
{"ac":"MIT","sol":"APCV","week":1357.071,"lod":-0.623},{"ac":"MIT","sol":"APCV","week":1357.214,"lod":-0.630},{"ac":"MIT","sol":"APCV","week":1357.357,"lod":-0.637},{"ac":"MIT","sol":"APCV","week":1357.5,"lod":-0.626},{"ac":"MIT","sol":"APCV","week":1357.643,"lod":-0.625},{"ac":"MIT","sol":"APCV","week":1357.786,"lod":-0.619},{"ac":"MIT","sol":"APCV","week":1357.929,"lod":-0.614},
{"ac":"MIT","sol":"APCV","week":1358.071,"lod":-0.611},{"ac":"MIT","sol":"APCV","week":1358.214,"lod":-0.614},{"ac":"MIT","sol":"APCV","week":1358.357,"lod":-0.615},{"ac":"MIT","sol":"APCV","week":1358.5,"lod":-0.590},{"ac":"MIT","sol":"APCV","week":1358.643,"lod":-0.608},{"ac":"MIT","sol":"APCV","week":1358.786,"lod":-0.624},{"ac":"MIT","sol":"APCV","week":1358.929,"lod":-0.613},
{"ac":"MIT","sol":"APCV","week":1359.071,"lod":-0.611},{"ac":"MIT","sol":"APCV","week":1359.214,"lod":-0.611},{"ac":"MIT","sol":"APCV","week":1359.357,"lod":-0.612},{"ac":"MIT","sol":"APCV","week":1359.5,"lod":-0.621},{"ac":"MIT","sol":"APCV","week":1359.643,"lod":-0.623},{"ac":"MIT","sol":"APCV","week":1359.786,"lod":-0.630},{"ac":"MIT","sol":"APCV","week":1359.929,"lod":-0.624},

{"ac":"MIT","sol":"ROU","week":1355.214,"lod":-0.611},{"ac":"MIT","sol":"ROU","week":1355.357,"lod":-0.615},{"ac":"MIT","sol":"ROU","week":1355.5,"lod":-0.617},{"ac":"MIT","sol":"ROU","week":1355.643,"lod":-0.626},{"ac":"MIT","sol":"ROU","week":1355.786,"lod":-0.626},{"ac":"MIT","sol":"ROU","week":1355.929,"lod":-0.626},
{"ac":"MIT","sol":"ROU","week":1356.071,"lod":-0.606},{"ac":"MIT","sol":"ROU","week":1356.214,"lod":-0.600},{"ac":"MIT","sol":"ROU","week":1356.357,"lod":-0.613},{"ac":"MIT","sol":"ROU","week":1356.5,"lod":-0.615},{"ac":"MIT","sol":"ROU","week":1356.643,"lod":-0.624},{"ac":"MIT","sol":"ROU","week":1356.786,"lod":-0.644},{"ac":"MIT","sol":"ROU","week":1356.929,"lod":-0.640},
{"ac":"MIT","sol":"ROU","week":1357.071,"lod":-0.637},{"ac":"MIT","sol":"ROU","week":1357.214,"lod":-0.644},{"ac":"MIT","sol":"ROU","week":1357.357,"lod":-0.648},{"ac":"MIT","sol":"ROU","week":1357.5,"lod":-0.639},{"ac":"MIT","sol":"ROU","week":1357.643,"lod":-0.639},{"ac":"MIT","sol":"ROU","week":1357.786,"lod":-0.624},{"ac":"MIT","sol":"ROU","week":1357.929,"lod":-0.614},
{"ac":"MIT","sol":"ROU","week":1358.071,"lod":-0.603},{"ac":"MIT","sol":"ROU","week":1358.214,"lod":-0.614},{"ac":"MIT","sol":"ROU","week":1358.357,"lod":-0.615},{"ac":"MIT","sol":"ROU","week":1358.5,"lod":-0.611},{"ac":"MIT","sol":"ROU","week":1358.643,"lod":-0.631},{"ac":"MIT","sol":"ROU","week":1358.786,"lod":-0.627},{"ac":"MIT","sol":"ROU","week":1358.929,"lod":-0.627},
{"ac":"MIT","sol":"ROU","week":1359.071,"lod":-0.626},{"ac":"MIT","sol":"ROU","week":1359.214,"lod":-0.627},{"ac":"MIT","sol":"ROU","week":1359.357,"lod":-0.629},{"ac":"MIT","sol":"ROU","week":1359.5,"lod":-0.636},{"ac":"MIT","sol":"ROU","week":1359.643,"lod":-0.645},{"ac":"MIT","sol":"ROU","week":1359.786,"lod":-0.640},{"ac":"MIT","sol":"ROU","week":1359.929,"lod":-0.626},

{"ac":"NGS","sol":"APCV","week":1355.214,"lod":-0.812},{"ac":"NGS","sol":"APCV","week":1355.357,"lod":-0.823},{"ac":"NGS","sol":"APCV","week":1355.5,"lod":-0.814},{"ac":"NGS","sol":"APCV","week":1355.643,"lod":-0.806},{"ac":"NGS","sol":"APCV","week":1355.786,"lod":-0.835},{"ac":"NGS","sol":"APCV","week":1355.929,"lod":-0.851},
{"ac":"NGS","sol":"APCV","week":1356.071,"lod":-0.851},{"ac":"NGS","sol":"APCV","week":1356.214,"lod":-0.851},{"ac":"NGS","sol":"APCV","week":1356.357,"lod":-0.847},{"ac":"NGS","sol":"APCV","week":1356.5,"lod":-0.840},{"ac":"NGS","sol":"APCV","week":1356.643,"lod":-0.820},{"ac":"NGS","sol":"APCV","week":1356.786,"lod":-0.831},{"ac":"NGS","sol":"APCV","week":1356.929,"lod":-0.817},
{"ac":"NGS","sol":"APCV","week":1358.071,"lod":-0.839},{"ac":"NGS","sol":"APCV","week":1358.214,"lod":-0.796},{"ac":"NGS","sol":"APCV","week":1358.357,"lod":-0.803},{"ac":"NGS","sol":"APCV","week":1358.5,"lod":-0.825},{"ac":"NGS","sol":"APCV","week":1358.643,"lod":-0.804},{"ac":"NGS","sol":"APCV","week":1358.786,"lod":-0.803},{"ac":"NGS","sol":"APCV","week":1358.929,"lod":-0.815},
{"ac":"NGS","sol":"APCV","week":1359.071,"lod":-0.763},{"ac":"NGS","sol":"APCV","week":1359.214,"lod":-0.779},{"ac":"NGS","sol":"APCV","week":1359.357,"lod":-0.761},{"ac":"NGS","sol":"APCV","week":1359.5,"lod":-0.781},{"ac":"NGS","sol":"APCV","week":1359.643,"lod":-0.761},{"ac":"NGS","sol":"APCV","week":1359.786,"lod":-0.769},{"ac":"NGS","sol":"APCV","week":1359.929,"lod":-0.799},

{"ac":"NGS","sol":"ROU","week":1355.214,"lod":-0.820},{"ac":"NGS","sol":"ROU","week":1355.357,"lod":-0.831},{"ac":"NGS","sol":"ROU","week":1355.5,"lod":-0.815},{"ac":"NGS","sol":"ROU","week":1355.643,"lod":-0.820},{"ac":"NGS","sol":"ROU","week":1355.786,"lod":-0.843},{"ac":"NGS","sol":"ROU","week":1355.929,"lod":-0.874},
{"ac":"NGS","sol":"ROU","week":1356.071,"lod":-0.852},{"ac":"NGS","sol":"ROU","week":1356.214,"lod":-0.861},{"ac":"NGS","sol":"ROU","week":1356.929,"lod":-0.809},
{"ac":"NGS","sol":"ROU","week":1357.071,"lod":-0.808},{"ac":"NGS","sol":"ROU","week":1357.214,"lod":-0.821},{"ac":"NGS","sol":"ROU","week":1357.357,"lod":-0.784},{"ac":"NGS","sol":"ROU","week":1357.5,"lod":-0.820},{"ac":"NGS","sol":"ROU","week":1357.643,"lod":-0.799},{"ac":"NGS","sol":"ROU","week":1357.786,"lod":-0.814},{"ac":"NGS","sol":"ROU","week":1357.929,"lod":-0.827},
{"ac":"NGS","sol":"ROU","week":1358.071,"lod":-0.828},{"ac":"NGS","sol":"ROU","week":1358.214,"lod":-0.796},{"ac":"NGS","sol":"ROU","week":1358.357,"lod":-0.808},{"ac":"NGS","sol":"ROU","week":1358.5,"lod":-0.812},{"ac":"NGS","sol":"ROU","week":1358.643,"lod":-0.797},{"ac":"NGS","sol":"ROU","week":1358.786,"lod":-0.797},{"ac":"NGS","sol":"ROU","week":1358.929,"lod":-0.811},
{"ac":"NGS","sol":"ROU","week":1359.071,"lod":-0.799},{"ac":"NGS","sol":"ROU","week":1359.214,"lod":-0.794},{"ac":"NGS","sol":"ROU","week":1359.357,"lod":-0.788},{"ac":"NGS","sol":"ROU","week":1359.5,"lod":-0.802},{"ac":"NGS","sol":"ROU","week":1359.643,"lod":-0.778},{"ac":"NGS","sol":"ROU","week":1359.786,"lod":-0.784},{"ac":"NGS","sol":"ROU","week":1359.929,"lod":-0.783},

{"ac":"SIO","sol":"APCV","week":1355.214,"lod":-1.030},{"ac":"SIO","sol":"APCV","week":1355.357,"lod":-1.021},{"ac":"SIO","sol":"APCV","week":1355.5,"lod":-1.025},{"ac":"SIO","sol":"APCV","week":1355.643,"lod":-1.049},{"ac":"SIO","sol":"APCV","week":1355.786,"lod":-1.042},{"ac":"SIO","sol":"APCV","week":1355.929,"lod":-1.033},
{"ac":"SIO","sol":"APCV","week":1356.071,"lod":-1.032},{"ac":"SIO","sol":"APCV","week":1356.214,"lod":-1.030},{"ac":"SIO","sol":"APCV","week":1356.357,"lod":-1.009},{"ac":"SIO","sol":"APCV","week":1356.5,"lod":-1.006},{"ac":"SIO","sol":"APCV","week":1356.643,"lod":-1.003},{"ac":"SIO","sol":"APCV","week":1356.786,"lod":-1.009},{"ac":"SIO","sol":"APCV","week":1356.929,"lod":-1.023},
{"ac":"SIO","sol":"APCV","week":1357.071,"lod":-1.020},{"ac":"SIO","sol":"APCV","week":1357.214,"lod":-1.031},{"ac":"SIO","sol":"APCV","week":1357.357,"lod":-1.023},{"ac":"SIO","sol":"APCV","week":1357.5,"lod":-1.018},{"ac":"SIO","sol":"APCV","week":1357.643,"lod":-1.015},{"ac":"SIO","sol":"APCV","week":1357.786,"lod":-1.009},{"ac":"SIO","sol":"APCV","week":1357.929,"lod":-1.002},

{"ac":"SIO","sol":"ROU","week":1355.214,"lod":-1.036},{"ac":"SIO","sol":"ROU","week":1355.357,"lod":-1.038},{"ac":"SIO","sol":"ROU","week":1355.5,"lod":-1.048},{"ac":"SIO","sol":"ROU","week":1355.643,"lod":-1.065},{"ac":"SIO","sol":"ROU","week":1355.786,"lod":-1.058},{"ac":"SIO","sol":"ROU","week":1355.929,"lod":-1.042},
{"ac":"SIO","sol":"ROU","week":1356.071,"lod":-1.033},{"ac":"SIO","sol":"ROU","week":1356.214,"lod":-1.030},{"ac":"SIO","sol":"ROU","week":1356.357,"lod":-1.017},{"ac":"SIO","sol":"ROU","week":1356.5,"lod":-1.007},{"ac":"SIO","sol":"ROU","week":1356.643,"lod":-1.017},{"ac":"SIO","sol":"ROU","week":1356.786,"lod":-1.034},{"ac":"SIO","sol":"ROU","week":1356.929,"lod":-1.044},
{"ac":"SIO","sol":"ROU","week":1357.071,"lod":-1.044},{"ac":"SIO","sol":"ROU","week":1357.214,"lod":-1.064},{"ac":"SIO","sol":"ROU","week":1357.357,"lod":-1.054},{"ac":"SIO","sol":"ROU","week":1357.5,"lod":-1.054},{"ac":"SIO","sol":"ROU","week":1357.643,"lod":-1.045},{"ac":"SIO","sol":"ROU","week":1357.786,"lod":-1.027}
]
},
"layer": [
 {
  "layer": [
   {
    "data": {"values": [{}]},
    "mark": {"type": "rect", "fill": "#fbf4d8", "stroke": "#30349a", "strokeWidth": 1.5},
    "encoding": {
      "x": {"datum": 1360.206, "type": "quantitative", "scale": {"domain": [1341, 1360], "nice": false, "zero": false},
            "axis": {"orient": "bottom", "values": [1341,1343,1345,1347,1349,1351,1353,1355,1357,1359], "labels": false, "tickSize": 7, "domain": false, "title": null}},
      "x2": {"datum": 1361.56},
      "y": {"datum": 0.2, "type": "quantitative", "scale": {"domain": [-1.6, 0.2], "nice": false, "zero": false},
            "axis": {"orient": "right", "values": [0.2,0,-0.2,-0.4,-0.6,-0.8,-1,-1.2,-1.4,-1.6], "labels": false, "tickSize": 13, "title": null}},
      "y2": {"datum": -1.6}
    }
   },
   {
    "data": {"name": "labels"},
    "mark": {"type": "text", "align": "left", "baseline": "middle", "fontSize": 34, "fontWeight": "bold"},
    "encoding": {
      "x": {"datum": 1360.41, "type": "quantitative",
            "axis": {"orient": "top", "values": [1342,1344,1346,1348,1350,1352,1354,1356,1358,1360], "labels": false, "tickSize": 14, "title": null}},
      "y": {"field": "level", "type": "quantitative",
            "axis": {"orient": "left", "values": [0,-0.5,-1,-1.5], "grid": true, "labels": false, "ticks": false, "domain": false, "title": null}},
      "text": {"field": "ac"},
      "fill": {"field": "ac", "type": "nominal", "legend": null,
               "scale": {"domain": ["COD","EMR","GFZ","MIT","NGS","SIO","SNX2","IGF"], "range": ["#ff3a1c","#0a720a","#48dcd4","#8c1400","#4c7fe0","#ff9b0f","#12ee12","#000000"]}}
    }
   },
   {
    "data": {"name": "series"},
    "mark": {"type": "line", "strokeWidth": 2.3, "strokeJoin": "round"},
    "encoding": {
      "x": {"field": "week", "type": "quantitative",
            "axis": {"orient": "bottom", "values": [1342,1344,1346,1348,1350,1352,1354,1356,1358,1360], "format": "d", "title": "Time [GPS weeks]",
                     "tickSize": 14, "labelPadding": 12, "titlePadding": 8, "grid": true}},
      "y": {"field": "lod", "type": "quantitative",
            "axis": {"orient": "left", "values": [0.2,0,-0.2,-0.4,-0.6,-0.8,-1,-1.2,-1.4,-1.6],
                     "labelExpr": "datum.value < 0 ? '-' + format(-datum.value, '.1f') : format(datum.value, '.1f')",
                     "title": "LOD Difference [ms/day]", "tickSize": 14, "labelPadding": 14, "titlePadding": 8}},
      "stroke": {"field": "ac", "type": "nominal", "legend": null,
                 "scale": {"domain": ["COD","EMR","GFZ","MIT","NGS","SIO","SNX2","IGF"], "range": ["#ff3a1c","#0a720a","#48dcd4","#8c1400","#4c7fe0","#ff9b0f","#12ee12","#000000"]}},
      "strokeDash": {"field": "sol", "type": "nominal", "legend": null,
                     "scale": {"domain": ["APCV","ROU"], "range": [[1,0],[10,6]]}}
    }
   },
   {
    "data": {"values": [{}]},
    "mark": {"type": "text", "text": "-0.002±0.007", "fill": "#a8d000", "fontSize": 48, "fontWeight": "bold", "align": "center", "baseline": "middle"},
    "encoding": {
      "x": {"datum": 1350.58, "type": "quantitative",
            "axis": {"orient": "top", "values": [1341,1343,1345,1347,1349,1351,1353,1355,1357,1359], "labels": false, "tickSize": 7, "domain": false, "title": null}},
      "y": {"datum": -1.2525, "type": "quantitative", "axis": null}
    }
   },
   {
    "data": {"values": [{}]},
    "mark": {"type": "text", "text": "-0.003±0.009", "fill": "black", "fontSize": 48, "fontWeight": "bold", "align": "center", "baseline": "middle"},
    "encoding": {
      "x": {"datum": 1350.58, "type": "quantitative", "axis": null},
      "y": {"datum": -1.4425, "type": "quantitative", "axis": null}
    }
   },
   {
    "data": {"values": [{}]},
    "mark": {"type": "text", "text": "LOD (AC - IGS)", "fill": "black", "fontSize": 35, "fontWeight": "bold", "align": "right", "baseline": "middle"},
    "encoding": {
      "x": {"datum": 1356.226, "type": "quantitative", "axis": null},
      "y": {"datum": 0.1316, "type": "quantitative", "axis": null}
    }
   },
   {
    "data": {"values": [{}]},
    "mark": {"type": "rect", "fill": "white", "stroke": "#ff2200", "strokeWidth": 7.5},
    "encoding": {
      "x": {"datum": 1341.123, "type": "quantitative", "axis": null},
      "x2": {"datum": 1355.168},
      "y": {"datum": 0.252, "type": "quantitative", "axis": null},
      "y2": {"datum": -1.179}
    }
   }
  ],
  "resolve": {"axis": {"x": "independent", "y": "independent"}}
 },
 {
  "layer": [
   {
    "layer": [
     {
      "data": {"name": "bars"},
      "transform": [{"filter": "datum.sol === 'APCV'"}],
      "mark": {"type": "rect", "fill": "#fffde6", "stroke": "#4d4d4d", "strokeWidth": 1.3},
      "encoding": {
        "x": {"field": "cat", "type": "nominal",
              "scale": {"type": "band", "domain": ["COD","EMR","GFZ","MIT","NGS","SIO","SNX","IGF"], "range": [229, 946], "paddingInner": 0, "paddingOuter": 0},
              "axis": {"orient": "bottom", "offset": -304, "tickBand": "extent", "labelAngle": 0, "tickSize": 10,
                       "labelPadding": 4, "labelFontSize": 37, "title": null, "zindex": 1}},
        "y": {"datum": -100, "type": "quantitative",
              "scale": {"domain": [-100, 100], "range": [701, 62], "nice": false, "zero": false},
              "axis": {"orient": "left", "offset": -229, "values": [-100,-50,0,50,100],
                       "labelExpr": "datum.value < 0 ? '-' + format(-datum.value, 'd') : format(datum.value, 'd')",
                       "tickSize": 16, "labelPadding": 14, "labelFontSize": 41, "title": "Bias/Stddev (µs)", "titleFontSize": 36, "titlePadding": 10, "zindex": 1}},
        "y2": {"datum": 100}
      }
     },
     {
      "data": {"name": "bars"},
      "transform": [{"filter": "datum.sol === 'APCV'"}],
      "mark": {"type": "tick", "orient": "horizontal", "size": 90, "thickness": 2.5, "color": "black", "opacity": 1},
      "encoding": {
        "x": {"field": "cat", "type": "nominal",
              "axis": {"orient": "top", "offset": -62, "tickBand": "extent", "labels": false, "tickSize": 16, "title": null, "zindex": 1}},
        "y": {"datum": 0, "type": "quantitative",
              "axis": {"orient": "right", "offset": -527, "values": [-100,-50,0,50,100], "labels": false, "tickSize": 16, "title": null, "zindex": 1}}
      }
     },
     {
      "data": {"name": "bars"},
      "mark": {"type": "rule", "strokeWidth": 4.5, "opacity": 1},
      "encoding": {
        "x": {"field": "cat", "type": "nominal", "axis": null},
        "xOffset": {"field": "sol", "type": "nominal", "scale": {"domain": ["APCV","ROU"], "paddingInner": 0, "paddingOuter": 0.6}},
        "y": {"field": "lo", "type": "quantitative",
              "axis": {"orient": "left", "offset": -229, "values": [-100,-90,-80,-70,-60,-50,-40,-30,-20,-10,0,10,20,30,40,50,60,70,80,90,100], "labels": false, "domain": false, "tickSize": 9, "title": null, "zindex": 1}},
        "y2": {"field": "hi"},
        "color": {"field": "sol", "type": "nominal", "legend": null,
                  "scale": {"domain": ["APCV","ROU"], "range": ["#ff2e12","#101c8c"]}}
      }
     },
     {
      "data": {"name": "bars"},
      "mark": {"type": "tick", "orient": "horizontal", "size": 21, "thickness": 4.5, "opacity": 1},
      "encoding": {
        "x": {"field": "cat", "type": "nominal", "axis": null},
        "xOffset": {"field": "sol", "type": "nominal"},
        "y": {"field": "lo", "type": "quantitative",
              "axis": {"orient": "right", "offset": -527, "values": [-100,-90,-80,-70,-60,-50,-40,-30,-20,-10,0,10,20,30,40,50,60,70,80,90,100], "labels": false, "domain": false, "tickSize": 9, "title": null, "zindex": 1}},
        "color": {"field": "sol", "type": "nominal", "legend": null}
      }
     },
     {
      "data": {"name": "bars"},
      "mark": {"type": "tick", "orient": "horizontal", "size": 21, "thickness": 4.5, "opacity": 1},
      "encoding": {
        "x": {"field": "cat", "type": "nominal", "axis": null},
        "xOffset": {"field": "sol", "type": "nominal"},
        "y": {"field": "hi", "type": "quantitative", "axis": null},
        "color": {"field": "sol", "type": "nominal", "legend": null}
      }
     },
     {
      "data": {"name": "bars"},
      "mark": {"type": "point", "filled": true, "shape": "circle", "size": 200, "opacity": 1},
      "encoding": {
        "x": {"field": "cat", "type": "nominal", "axis": null},
        "xOffset": {"field": "sol", "type": "nominal"},
        "y": {"field": "mean", "type": "quantitative", "axis": null},
        "color": {"field": "sol", "type": "nominal", "legend": null}
      }
     },
     {
      "data": {"values": [{}]},
      "mark": {"type": "text", "text": "LOD", "fontSize": 55, "fontWeight": "bold", "align": "center", "baseline": "middle", "fill": "black"},
      "encoding": {
        "x": {"datum": "MIT", "type": "nominal", "axis": null},
        "y": {"datum": 114, "type": "quantitative", "axis": null}
      }
     }
    ],
    "resolve": {"axis": {"x": "independent", "y": "independent"}}
   },
   {
    "layer": [
     {
      "data": {"values": [{}]},
      "mark": {"type": "rect", "fill": "#fffde6", "stroke": "black", "strokeWidth": 1.5},
      "encoding": {
        "x": {"datum": 1344.226, "type": "quantitative", "scale": {"domain": [1341, 1360], "nice": false, "zero": false}, "axis": null},
        "x2": {"datum": 1349.374},
        "y": {"datum": 97.2, "type": "quantitative", "axis": null},
        "y2": {"datum": 80.0}
      }
     },
     {
      "data": {"values": [{}]},
      "mark": {"type": "rule", "stroke": "#ff2e12", "strokeWidth": 4.5},
      "encoding": {
        "x": {"datum": 1344.265, "type": "quantitative", "axis": null},
        "x2": {"datum": 1344.871},
        "y": {"datum": 88.6, "type": "quantitative", "axis": null}
      }
     },
     {
      "data": {"values": [{}]},
      "mark": {"type": "rule", "stroke": "#101c8c", "strokeWidth": 4.5},
      "encoding": {
        "x": {"datum": 1346.935, "type": "quantitative", "axis": null},
        "x2": {"datum": 1347.723},
        "y": {"datum": 88.6, "type": "quantitative", "axis": null}
      }
     },
     {
      "data": {"values": [{}]},
      "mark": {"type": "text", "text": "APCV", "fill": "#ff2e12", "fontSize": 40, "fontWeight": "bold", "align": "left", "baseline": "middle"},
      "encoding": {
        "x": {"datum": 1345.013, "type": "quantitative", "axis": null},
        "y": {"datum": 88.6, "type": "quantitative", "axis": null}
      }
     },
     {
      "data": {"values": [{}]},
      "mark": {"type": "text", "text": "ROU", "fill": "#101c8c", "fontSize": 40, "fontWeight": "bold", "align": "left", "baseline": "middle"},
      "encoding": {
        "x": {"datum": 1347.839, "type": "quantitative", "axis": null},
        "y": {"datum": 88.6, "type": "quantitative", "axis": null}
      }
     }
    ]
   }
  ],
  "resolve": {"scale": {"x": "independent"}, "axis": {"x": "independent", "y": "independent"}}
 }
],
"resolve": {"scale": {"x": "independent", "y": "independent"}, "axis": {"x": "independent", "y": "independent"}}
}
